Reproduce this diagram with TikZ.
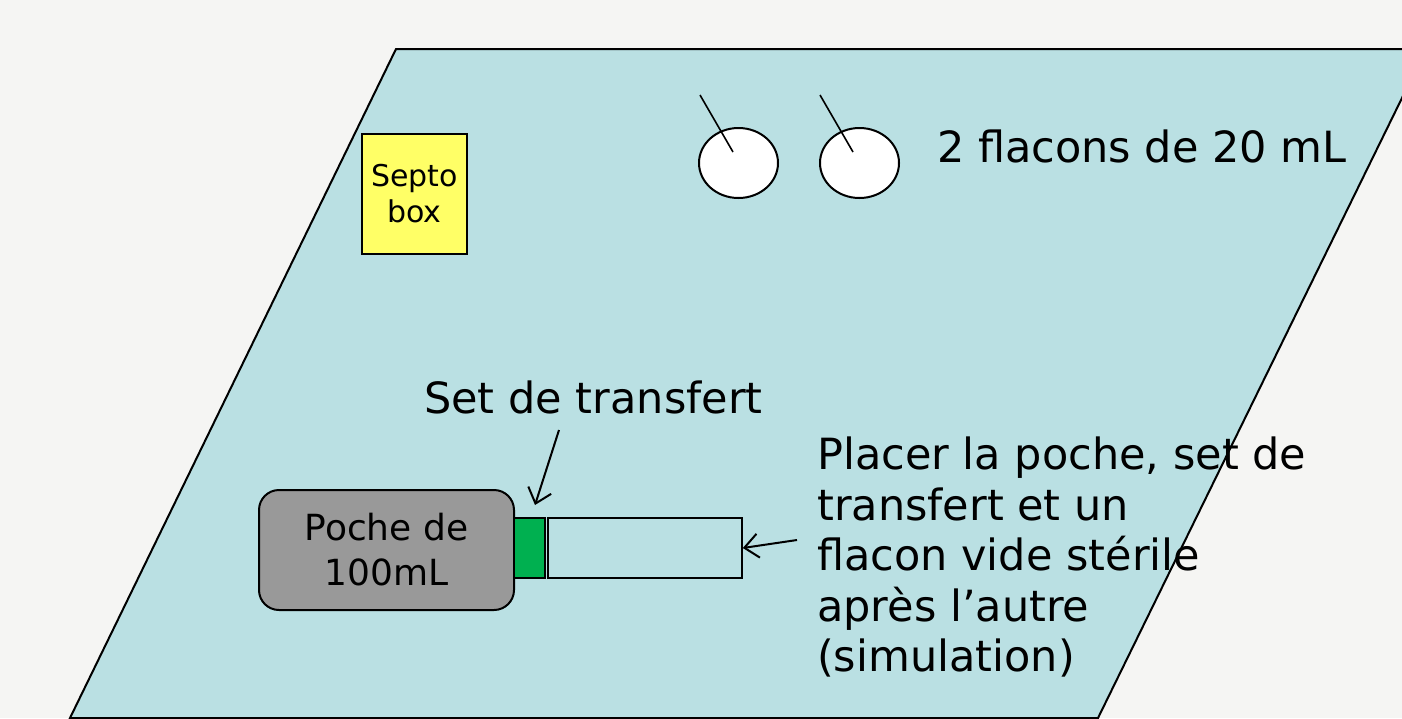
\documentclass[tikz,border=0pt]{standalone}
\usepackage{fontspec}
\setmainfont{DejaVu Sans}
\usetikzlibrary{shapes.geometric,arrows.meta}
\definecolor{bgc}{HTML}{F5F5F3}
\definecolor{tablec}{HTML}{BAE0E3}
\definecolor{pochec}{HTML}{999999}
\definecolor{greenc}{HTML}{00B050}
\definecolor{yellowc}{HTML}{FFFF66}
\tikzset{
  outline/.style={draw=black, line width=2pt},
  bigtext/.style={font=\fontsize{43}{50.5}\selectfont, inner sep=0pt},
  flacon/.style={ellipse, outline, fill=white, minimum width=79pt, minimum height=70pt, inner sep=0pt},
  pointer/.style={line width=2pt, -{Straight Barb[length=14pt,width=24pt,line width=2pt]}},
  needle/.style={line width=1.6pt},
}
\begin{document}
\begin{tikzpicture}[x=1pt,y=-1pt]
\useasboundingbox (0,0) rectangle (1402,718);
\fill[bgc] (0,0) rectangle (1402,718);
\begin{scope}
\clip (0,0) rectangle (1402,718);
\filldraw[fill=tablec, outline] (396,49) -- (1426,49) -- (1098,718) -- (70,718) -- cycle;
\end{scope}
% Septo box
\node[outline, fill=yellowc, minimum width=105pt, minimum height=120pt, inner sep=0pt, align=center,
      font=\fontsize{30}{36}\selectfont] (septo) at (414.5,194) {Septo\\box};
% flacons
\node[flacon] (f1) at (738.5,163) {};
\node[flacon] (f2) at (859.5,163) {};
\coordinate (n1a) at (700,95);
\coordinate (n1b) at (733,152);
\coordinate (n2a) at (820,95);
\coordinate (n2b) at (853,152);
\draw[needle] (n1a) -- (n1b);
\draw[needle] (n2a) -- (n2b);
\node[bigtext, anchor=base west] (flab) at (937,162) {2 flacons de 20 mL};
% poche and set
\node[outline, fill=pochec, rounded corners=20pt, minimum width=255pt, minimum height=120pt, inner sep=0pt,
      align=center, font=\fontsize{36}{45}\selectfont] (poche) at (386.5,550) {Poche de\\100mL};
\node[outline, fill=greenc, minimum width=31pt, minimum height=60pt, inner sep=0pt] (set) at (529.5,548) {};
\node[outline, line width=1.6pt, minimum width=194pt, minimum height=60pt, inner sep=0pt] (vide) at (645,548) {};
\node[bigtext, anchor=base west] (setlab) at (424,413) {Set de transfert};
\coordinate (a1s) at (559,430);
\coordinate (a1e) at (535,505);
\draw[pointer] (a1s) -- (a1e);
\node[bigtext, anchor=north west, align=left] (instr) at (817,437)
  {Placer la poche, set de\\transfert et un\\flacon vide stérile\\après l’autre\\(simulation)};
\coordinate (a2s) at (797,540);
\draw[pointer] (a2s) -- (vide.east);
\end{tikzpicture}
\end{document}
